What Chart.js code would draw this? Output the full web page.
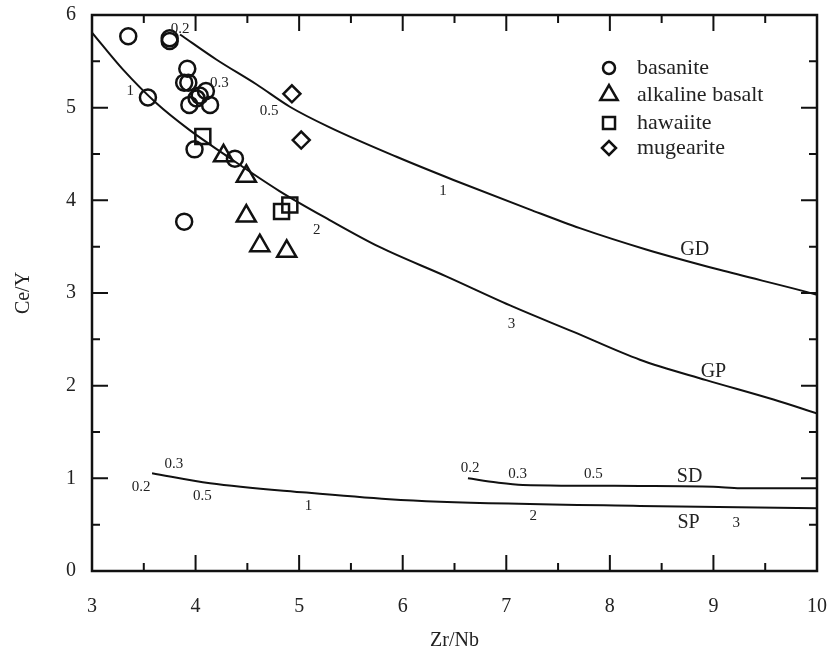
<!DOCTYPE html>
<html>
<head>
<meta charset="utf-8">
<script src="https://cdn.jsdelivr.net/npm/chart.js@4.4.1/dist/chart.umd.min.js"></script>
<style>
  html, body { margin: 0; padding: 0; background: #fff; }
</style>
</head>
<body>
<canvas id="chart" width="832" height="656"></canvas>
<script>
// sample data
const basaniteX = [3.35, 3.75, 3.75, 3.54, 3.92, 3.89, 3.93, 4.10, 4.01, 4.04, 3.94, 4.14, 3.99, 4.38, 3.89];
const basaniteY = [5.77, 5.72, 5.75, 5.11, 5.42, 5.27, 5.27, 5.18, 5.10, 5.13, 5.03, 5.03, 4.55, 4.45, 3.77];
const alkBasaltX = [4.27, 4.49, 4.49, 4.62, 4.88];
const alkBasaltY = [4.48, 4.26, 3.83, 3.51, 3.45];
const hawaiiteX = [4.07, 4.91, 4.83];
const hawaiiteY = [4.69, 3.95, 3.88];
const mugeariteX = [4.93, 5.02];
const mugeariteY = [5.15, 4.65];

// melting curves
const gdX = [3.85, 4.20, 4.59, 4.91, 5.29, 5.94, 6.49, 7.23, 7.71, 8.35, 9.06, 9.87, 10.0];
const gdY = [5.79, 5.52, 5.25, 5.01, 4.79, 4.47, 4.22, 3.90, 3.70, 3.47, 3.25, 3.02, 2.98];
const gpX = [3.0, 3.30, 3.62, 3.94, 4.26, 4.81, 5.29, 5.77, 6.42, 7.07, 7.65, 8.29, 8.93, 9.58, 10.0];
const gpY = [5.81, 5.41, 5.05, 4.76, 4.51, 4.10, 3.79, 3.50, 3.18, 2.85, 2.58, 2.28, 2.06, 1.85, 1.70];
const sdX = [6.63, 6.91, 7.16, 8.29, 9.0, 9.26, 10.0];
const sdY = [1.00, 0.954, 0.929, 0.918, 0.910, 0.893, 0.893];
const spX = [3.58, 4.14, 5.07, 5.87, 6.36, 8.29, 10.0];
const spY = [1.055, 0.947, 0.846, 0.774, 0.748, 0.702, 0.677];

// axis ticks
const xTicks = [3, 4, 5, 6, 7, 8, 9, 10];
const yTicks = [0, 1, 2, 3, 4, 5, 6];

// curve annotations (text, x, y)
const noteText = ['0.2', '0.3', '0.5', '1', 'GD', '1', '2', '3', 'GP',
                  '0.2', '0.3', '0.5', 'SD', '0.3', '0.2', '0.5', '1', '2', 'SP', '3'];
const noteX = [3.85, 4.23, 4.71, 6.39, 8.82, 3.37, 5.17, 7.05, 9.0,
               6.65, 7.11, 7.84, 8.77, 3.79, 3.475, 4.065, 5.09, 7.26, 8.76, 9.22];
const noteY = [5.85, 5.27, 4.96, 4.10, 3.47, 5.18, 3.68, 2.67, 2.15,
               1.11, 1.05, 1.05, 1.02, 1.156, 0.91, 0.81, 0.70, 0.594, 0.52, 0.52];

const serif = "'Liberation Serif', 'Times New Roman', serif";

function pts(xs, ys) {
  return xs.map((v, i) => ({x: v, y: ys[i]}));
}

function markerSet(label, xs, ys, style, r, lr) {
  return {
    label: label,
    data: pts(xs, ys),
    pointStyle: style,
    pointRadius: r,
    legendRadius: lr,
    pointBorderWidth: 2.5,
    borderColor: '#111',
    backgroundColor: 'rgba(0,0,0,0)',
    showLine: false,
    order: 1
  };
}

function curveSet(label, xs, ys) {
  return {
    label: label,
    data: pts(xs, ys),
    showLine: true,
    pointRadius: 0,
    borderColor: '#111',
    borderWidth: 2,
    cubicInterpolationMode: 'monotone',
    isCurve: true,
    order: 2
  };
}

const frameTicks = {
  id: 'frameTicks',
  afterDatasetsDraw(chart) {
    const ctx = chart.ctx, a = chart.chartArea;
    const sx = chart.scales.x, sy = chart.scales.y;
    ctx.save();
    ctx.strokeStyle = '#111';
    ctx.lineWidth = 2;
    ctx.beginPath();
    for (let i = 0; i < xTicks.length; i++) {
      const vals = [xTicks[i]];
      if (i < xTicks.length - 1) vals.push((xTicks[i] + xTicks[i + 1]) / 2);
      vals.forEach((v, k) => {
        const p = sx.getPixelForValue(v), len = k === 0 ? 16 : 8;
        ctx.moveTo(p, a.bottom); ctx.lineTo(p, a.bottom - len);
        ctx.moveTo(p, a.top); ctx.lineTo(p, a.top + len);
      });
    }
    for (let i = 0; i < yTicks.length; i++) {
      const vals = [yTicks[i]];
      if (i < yTicks.length - 1) vals.push((yTicks[i] + yTicks[i + 1]) / 2);
      vals.forEach((v, k) => {
        const p = sy.getPixelForValue(v), len = k === 0 ? 16 : 8;
        ctx.moveTo(a.left, p); ctx.lineTo(a.left + len, p);
        ctx.moveTo(a.right, p); ctx.lineTo(a.right - len, p);
      });
    }
    ctx.stroke();
    ctx.lineWidth = 2.5;
    ctx.strokeRect(a.left, a.top, a.right - a.left, a.bottom - a.top);

    // curve labels
    ctx.fillStyle = '#222';
    ctx.textAlign = 'center';
    ctx.textBaseline = 'middle';
    noteText.forEach((t, i) => {
      const big = /[A-Z]/.test(t);
      ctx.font = (big ? '20px ' : '15px ') + serif;
      ctx.fillText(t, sx.getPixelForValue(noteX[i]), sy.getPixelForValue(noteY[i]));
    });

    // legend
    const items = chart.data.datasets.filter(d => !d.isCurve);
    items.forEach((d, i) => {
      const yy = [68, 95, 123, 148][i];
      ctx.lineWidth = 2.5;
      ctx.strokeStyle = '#111';
      ctx.fillStyle = 'rgba(0,0,0,0)';
      Chart.helpers.drawPoint(ctx, {
        pointStyle: d.pointStyle, radius: d.legendRadius, rotation: 0, borderWidth: 2.5
      }, 609, yy);
      ctx.fillStyle = '#222';
      ctx.textAlign = 'left';
      ctx.font = '22px ' + serif;
      ctx.fillText(d.label, 637, yy);
    });
    ctx.restore();
  }
};

new Chart(document.getElementById('chart'), {
  type: 'scatter',
  data: {
    datasets: [
      markerSet('basanite', basaniteX, basaniteY, 'circle', 8, 6),
      markerSet('alkaline basalt', alkBasaltX, alkBasaltY, 'triangle', 11, 10),
      markerSet('hawaiite', hawaiiteX, hawaiiteY, 'rect', 10.6, 8.5),
      markerSet('mugearite', mugeariteX, mugeariteY, 'rectRot', 8.5, 7),
      curveSet('GD', gdX, gdY),
      curveSet('GP', gpX, gpY),
      curveSet('SD', sdX, sdY),
      curveSet('SP', spX, spY)
    ]
  },
  options: {
    responsive: false,
    animation: false,
    layout: { padding: { top: 15, right: 15, left: 0, bottom: 0 } },
    plugins: {
      legend: { display: false },
      tooltip: { enabled: false }
    },
    scales: {
      x: {
        type: 'linear',
        min: 3, max: 10,
        afterBuildTicks: s => { s.ticks = xTicks.map(v => ({value: v})); },
        afterFit: s => { s.height = 85; s.paddingLeft = 0; s.paddingRight = 0; },
        grid: { display: false, drawTicks: false },
        border: { display: false },
        ticks: { color: '#222', padding: 24, font: { family: serif, size: 20 } },
        title: { display: true, text: 'Zr/Nb', color: '#222', font: { family: serif, size: 20 }, padding: { top: 0, bottom: 3 } }
      },
      y: {
        type: 'linear',
        min: 0, max: 6,
        afterBuildTicks: s => { s.ticks = yTicks.map(v => ({value: v})); },
        afterFit: s => { s.width = 92; s.paddingTop = 0; s.paddingBottom = 0; },
        grid: { display: false, drawTicks: false },
        border: { display: false },
        ticks: { color: '#222', padding: 16, font: { family: serif, size: 20 } },
        title: { display: true, text: 'Ce/Y', color: '#222', font: { family: serif, size: 20 }, padding: { top: 12, bottom: 0 } }
      }
    }
  },
  plugins: [frameTicks]
});
</script>
</body>
</html>
